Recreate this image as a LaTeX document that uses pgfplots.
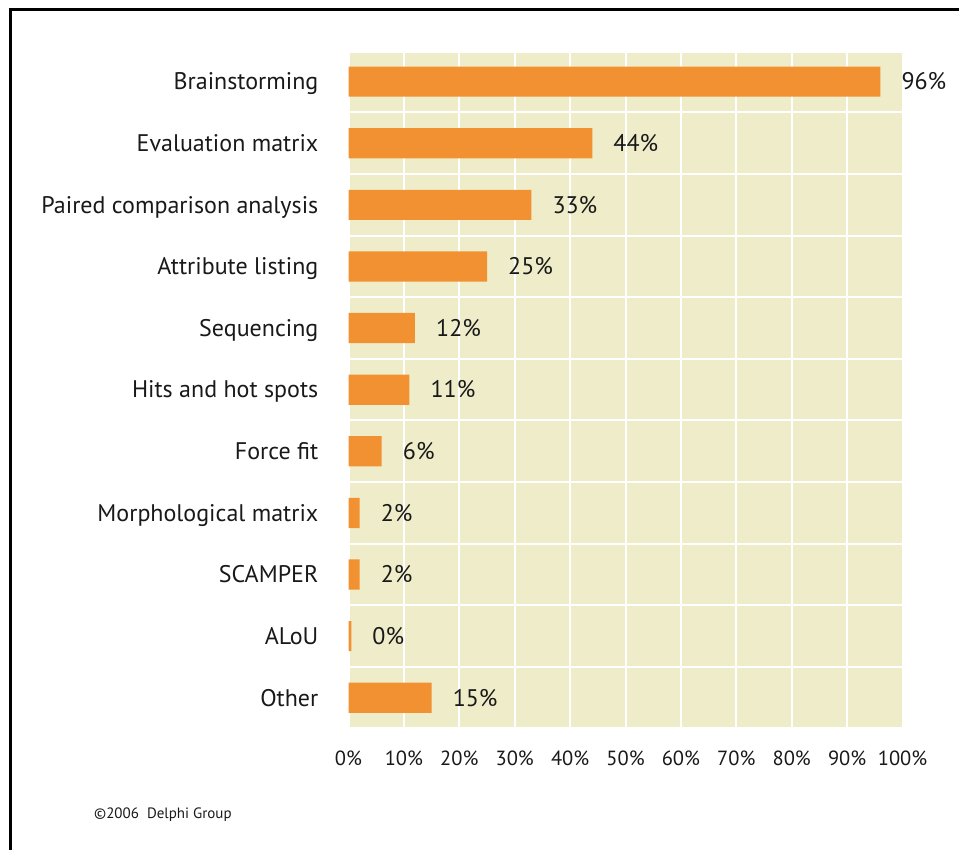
\documentclass[border=0pt]{standalone}
\usepackage{pgfplots}
\pgfplotsset{compat=1.18}
\usepackage{fontspec}
\setmainfont{PT Sans}
\definecolor{barorange}{RGB}{242,145,50}
\definecolor{panel}{RGB}{239,237,201}
\definecolor{ink}{RGB}{25,25,25}
\newcommand\labelfont{\fontsize{24bp}{28bp}\selectfont}
\begin{document}
\begin{tikzpicture}[x=1bp,y=1bp]
\useasboundingbox (0,0) rectangle (959,850);
\draw[black, line width=3bp] (10,-5) -- (10,840) -- (970,840);
\node[anchor=west, text=ink, font=\fontsize{15bp}{18bp}\selectfont, inner sep=0pt] at (94,35) {©2006\ \ Delphi Group};
\begin{axis}[
  at={(348.5bp,123.3bp)}, anchor=south west,
  width=554bp, height=674bp, scale only axis,
  xbar, bar width=0.49, bar shift=0pt,
  xmin=0, xmax=100,
  ymin=0, ymax=10, enlarge y limits={abs=0.47},
  axis background/.style={fill=panel},
  axis line style={draw=none},
  clip=false,
  /pgf/number format/assume math mode=true,
  ytick={0,...,10},
  yticklabels={Other,ALoU,SCAMPER,Morphological matrix,Force fit,Hits and hot spots,Sequencing,Attribute listing,Paired comparison analysis,Evaluation matrix,Brainstorming},
  minor ytick={0.5,1.5,...,9.5},
  ymajorgrids=false, yminorgrids=true,
  xtick={0,10,...,100},
  xmajorgrids=true,
  grid style={white, line width=2bp},
  minor grid style={white, line width=2bp},
  major tick length=0pt, minor tick length=0pt,
  xticklabel={\pgfmathprintnumber{\tick}\%},
  xticklabel style={font=\fontsize{20.5bp}{24bp}\selectfont, text=ink, inner sep=0pt, anchor=base, yshift=-39bp},
  yticklabel style={font=\labelfont, text=ink, inner sep=0pt, anchor=base east, xshift=-30bp, yshift=-8.3bp},
  point meta=explicit,
  nodes near coords={\pgfmathprintnumber{\pgfplotspointmeta}\%},
  every node near coord/.append style={font=\labelfont, text=ink, anchor=base west, inner sep=0pt, xshift=21bp, yshift=-8.3bp},
]
\addplot[draw=none, fill=barorange] coordinates {
  (96,10) [96]
  (44,9) [44]
  (33,8) [33]
  (25,7) [25]
  (12,6) [12]
  (11,5) [11]
  (6,4) [6]
  (2,3) [2]
  (2,2) [2]
  (0.5,1) [0]
  (15,0) [15]
};
\end{axis}
\end{tikzpicture}
\end{document}
